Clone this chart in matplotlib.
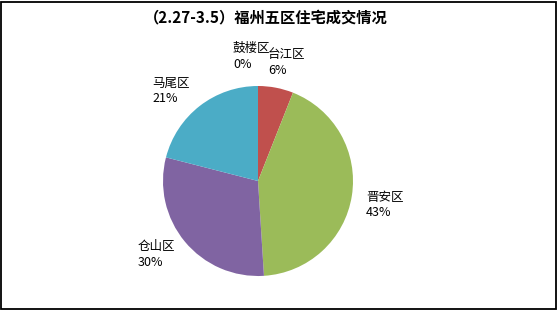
import matplotlib
matplotlib.use("Agg")
import matplotlib.pyplot as plt
from matplotlib.patches import Rectangle

plt.rcParams['font.family'] = ['Noto Sans CJK SC', 'DejaVu Sans']

title = "（2.27-3.5）福州五区住宅成交情况"
districts = ["鼓楼区", "台江区", "晋安区", "仓山区", "马尾区"]
shares = [0, 6, 43, 30, 21]
colors = ["#4F81BD", "#C0504D", "#9BBB59", "#8064A2", "#4BACC6"]

# label top-left anchor positions in figure pixels (x, y from top)
label_pos = [(233, 42), (268, 48), (366, 191), (138, 240), (152, 77)]

W, H = 558, 312
fig = plt.figure(figsize=(W / 100, H / 100), dpi=100)
cx, cy, r = 258, 181, 95
ax = fig.add_axes([(cx - r) / W, (H - cy - r) / H, 2 * r / W, 2 * r / H])
ax.pie(shares, colors=colors, startangle=90, counterclock=False,
       radius=1, wedgeprops=dict(linewidth=0))
ax.set_xlim(-1, 1)
ax.set_ylim(-1, 1)
ax.set_aspect('equal')
ax.axis('off')

for name, v, (px, py) in zip(districts, shares, label_pos):
    fig.text(px / W, 1 - py / H, f"{name}\n{v}%", ha='left', va='top',
             fontsize=9, linespacing=1.25, color='black')

fig.text(266 / W, 1 - 17 / H, title, ha='center', va='center',
         fontsize=11, fontweight='bold')

fig.patches.append(Rectangle((1.2 / W, 3.0 / H), 554.5 / W, 307.5 / H,
                             transform=fig.transFigure, fill=False,
                             edgecolor='black', linewidth=1.3))

fig.savefig("out.png", dpi=100)
